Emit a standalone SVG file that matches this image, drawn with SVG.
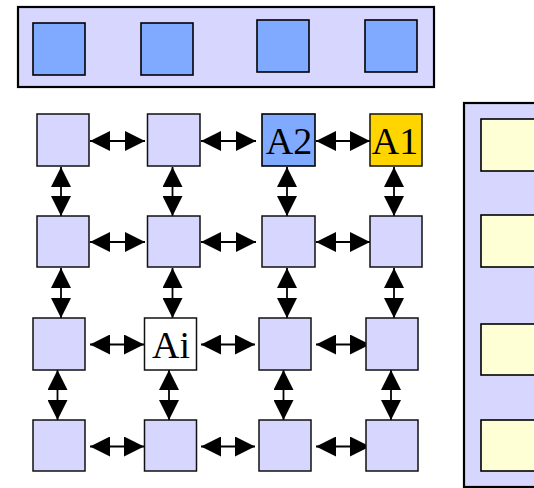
<svg xmlns="http://www.w3.org/2000/svg" width="534" height="488" viewBox="0 0 534 488">
  <defs>
    <marker id="head" markerUnits="userSpaceOnUse" markerWidth="20" markerHeight="20" viewBox="0 0 20 20" refX="20" refY="10" orient="auto-start-reverse">
      <path d="M0,0 L20,10 L0,20 z" fill="#000"/>
    </marker>
    <style>
      .panel { fill: #d6d6ff; stroke: #000; stroke-width: 2.2; }
      .blue { fill: #80aaff; stroke: #000; stroke-width: 1.6; }
      .cell { fill: #d6d6ff; stroke: #111; stroke-width: 1.5; }
      .plain { fill: #ffffff; stroke: #111; stroke-width: 1.5; }
      .gold { fill: #ffd500; stroke: #111; stroke-width: 1.5; }
      .cream { fill: #ffffd6; stroke: #000; stroke-width: 1.6; }
      .lbl { font-family: "Liberation Serif", "Times New Roman", serif; font-size: 38px; fill: #000; text-anchor: middle; }
      .link { stroke: #000; stroke-width: 1.8; fill: none; marker-start: url(#head); marker-end: url(#head); }
    </style>
  </defs>

  <!-- upper bank -->
  <g id="top-bank">
    <rect class="panel" x="18" y="7" width="416" height="80"/>
    <rect class="blue" x="33" y="23" width="52" height="52"/>
    <rect class="blue" x="141" y="23" width="52" height="52"/>
    <rect class="blue" x="257" y="20" width="52" height="52"/>
    <rect class="blue" x="365" y="20" width="52" height="52"/>
  </g>

  <!-- side bank -->
  <g id="side-bank">
    <rect class="panel" x="464" y="103" width="100" height="384"/>
    <rect class="cream" x="481" y="119" width="55" height="52"/>
    <rect class="cream" x="481" y="215" width="55" height="52"/>
    <rect class="cream" x="481" y="324" width="55" height="51"/>
    <rect class="cream" x="481" y="420" width="55" height="51"/>
  </g>

  <!-- mesh connectors -->
  <g id="links">
    <!-- horizontal -->
    <line class="link" x1="90" y1="141" x2="145" y2="141"/>
    <line class="link" x1="201" y1="141" x2="256" y2="141"/>
    <line class="link" x1="316" y1="141" x2="370" y2="141"/>
    <line class="link" x1="90" y1="242" x2="145" y2="242"/>
    <line class="link" x1="201" y1="242" x2="256" y2="242"/>
    <line class="link" x1="316" y1="242" x2="370" y2="242"/>
    <line class="link" x1="90" y1="344.5" x2="144" y2="344.5"/>
    <line class="link" x1="201" y1="344.5" x2="255" y2="344.5"/>
    <line class="link" x1="316" y1="344.5" x2="370" y2="344.5"/>
    <line class="link" x1="90" y1="446.5" x2="144" y2="446.5"/>
    <line class="link" x1="201" y1="446.5" x2="255" y2="446.5"/>
    <line class="link" x1="316" y1="446.5" x2="370" y2="446.5"/>
    <!-- vertical -->
    <line class="link" x1="61" y1="167" x2="61" y2="216"/>
    <line class="link" x1="172.5" y1="167" x2="172.5" y2="216"/>
    <line class="link" x1="287" y1="167" x2="287" y2="216"/>
    <line class="link" x1="394" y1="167" x2="394" y2="216"/>
    <line class="link" x1="61" y1="268" x2="61" y2="318"/>
    <line class="link" x1="172.5" y1="268" x2="172.5" y2="318"/>
    <line class="link" x1="287" y1="268" x2="287" y2="318"/>
    <line class="link" x1="394" y1="268" x2="394" y2="318"/>
    <line class="link" x1="57.5" y1="370" x2="57.5" y2="420"/>
    <line class="link" x1="169" y1="370" x2="169" y2="420"/>
    <line class="link" x1="283.5" y1="370" x2="283.5" y2="420"/>
    <line class="link" x1="391" y1="370" x2="391" y2="420"/>
  </g>

  <!-- mesh nodes, row 1 -->
  <g id="n11"><rect class="cell" x="37" y="114" width="52" height="52"/></g>
  <g id="n12"><rect class="cell" x="147.5" y="114" width="52.5" height="52"/></g>
  <g id="A2"><rect class="blue" x="262" y="114" width="53" height="52"/><text class="lbl" x="289" y="154">A2</text></g>
  <g id="A1"><rect class="gold" x="370" y="114" width="52" height="52"/><text class="lbl" x="395" y="154">A1</text></g>

  <!-- row 2 -->
  <g id="n21"><rect class="cell" x="37" y="216" width="52" height="51"/></g>
  <g id="n22"><rect class="cell" x="147.5" y="216" width="52.5" height="51"/></g>
  <g id="n23"><rect class="cell" x="262" y="216" width="53" height="51"/></g>
  <g id="n24"><rect class="cell" x="370" y="216" width="52" height="51"/></g>

  <!-- row 3 -->
  <g id="n31"><rect class="cell" x="33" y="318" width="52" height="52"/></g>
  <g id="Ai"><rect class="plain" x="144.5" y="318" width="52" height="52"/><text class="lbl" x="171" y="358">Ai</text></g>
  <g id="n33"><rect class="cell" x="259" y="318" width="52" height="52"/></g>
  <g id="n34"><rect class="cell" x="366" y="318" width="52" height="52"/></g>

  <!-- row 4 -->
  <g id="n41"><rect class="cell" x="33" y="420" width="52" height="51"/></g>
  <g id="n42"><rect class="cell" x="144.5" y="420" width="52" height="51"/></g>
  <g id="n43"><rect class="cell" x="259" y="420" width="52" height="51"/></g>
  <g id="n44"><rect class="cell" x="366" y="420" width="52" height="51"/></g>
</svg>
